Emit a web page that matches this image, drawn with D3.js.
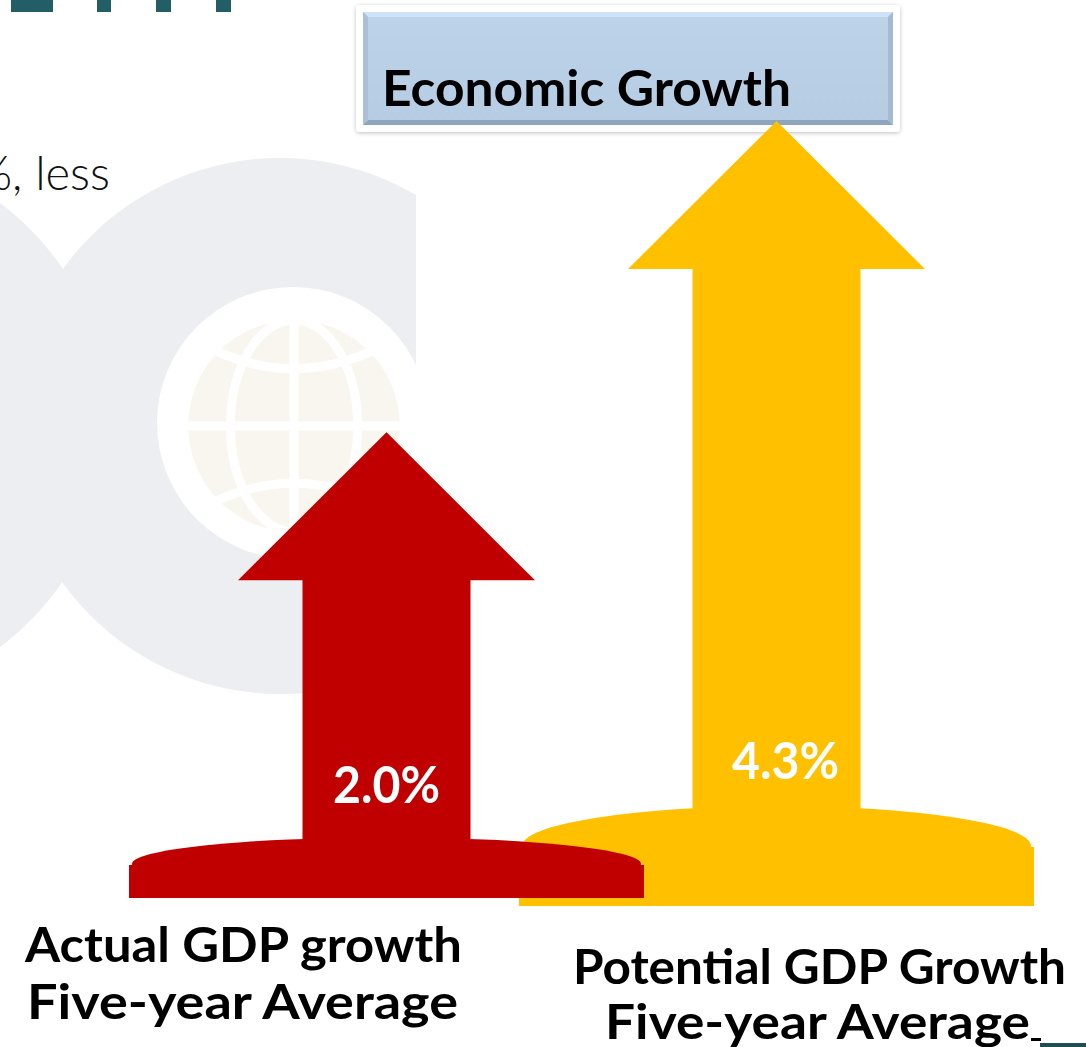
<!DOCTYPE html>
<html>
<head>
<meta charset="utf-8">
<script src="https://cdn.jsdelivr.net/npm/d3@7"></script>
<style>
  html, body { margin: 0; padding: 0; background: #fff; }
  svg { display: block; }
</style>
</head>
<body>
<div id="chart"></div>
<script>
// data
var categories = ["Actual", "Potential"];
var values = [2.0, 4.3];
var labelLine1 = ["Actual GDP growth", "Potential GDP Growth"];
var labelLine2 = ["Five-year Average", "Five-year Average"];
var colors = ["#c00000", "#ffc000"];
var title = "Economic Growth";

var width = 1086, height = 1047;

var svg = d3.select("#chart").append("svg")
    .attr("width", width)
    .attr("height", height);

var defs = svg.append("defs");

// background logo (faint grey shapes + globe)
var bgGrey = "#eceef1";
defs.append("clipPath").attr("id", "cCut")
  .append("rect").attr("x", 0).attr("y", 0).attr("width", 416).attr("height", height);

svg.append("circle").attr("cx", -166.5).attr("cy", 425).attr("r", 277.5).attr("fill", bgGrey);
svg.append("circle").attr("cx", 280).attr("cy", 426).attr("r", 268)
    .attr("fill", bgGrey).attr("clip-path", "url(#cCut)");
svg.append("circle").attr("cx", 293).attr("cy", 423).attr("r", 136).attr("fill", "#fff");

var gx = 294, gy = 426, gr = 106;
defs.append("clipPath").attr("id", "globeClip")
  .append("circle").attr("cx", gx).attr("cy", gy).attr("r", gr);
var globe = svg.append("g").attr("clip-path", "url(#globeClip)");
globe.append("circle").attr("cx", gx).attr("cy", gy).attr("r", gr).attr("fill", "#f8f6ee");
var gl = globe.append("g").attr("fill", "none").attr("stroke", "#fff").attr("stroke-width", 9);
gl.append("line").attr("x1", gx).attr("x2", gx).attr("y1", gy - gr).attr("y2", gy + gr);
gl.append("line").attr("x1", gx - gr).attr("x2", gx + gr).attr("y1", gy).attr("y2", gy);
gl.append("ellipse").attr("cx", gx).attr("cy", gy).attr("rx", gr * 0.6).attr("ry", gr);
[-1, 1].forEach(function (s) {
  var edgeY = gy + s * gr * 0.85, ctrlY = gy + s * gr * 0.23;
  gl.append("path")
    .attr("d", "M" + (gx - gr) + "," + edgeY + " Q" + gx + "," + ctrlY + " " + (gx + gr) + "," + edgeY);
});

// top-left remnants of slide title + body text
svg.append("g").attr("fill", "#235e66")
  .selectAll("rect")
  .data([[11, 42], [97, 14], [156, 15], [216, 15]])
  .enter().append("rect")
    .attr("x", function (d) { return d[0]; })
    .attr("y", 0)
    .attr("width", function (d) { return d[1]; })
    .attr("height", 12);

svg.append("text")
    .attr("x", 110).attr("y", 190)
    .attr("text-anchor", "end")
    .style("font-family", "Lato, 'Open Sans', sans-serif")
    .style("font-weight", 300)
    .style("font-size", "47px")
    .attr("fill", "#111")
    .text("%, less");

var labelFont = "Lato, 'Open Sans', sans-serif";

// title box (drawn under the arrows: the yellow tip overlaps its frame)
var shadow = defs.append("filter").attr("id", "shadow")
    .attr("x", "-5%").attr("y", "-10%").attr("width", "110%").attr("height", "120%");
shadow.append("feDropShadow").attr("dx", 0).attr("dy", 1)
    .attr("stdDeviation", 2).attr("flood-color", "#000").attr("flood-opacity", 0.25);

var grad = defs.append("linearGradient").attr("id", "boxGrad")
    .attr("x1", 0).attr("y1", 0).attr("x2", 0).attr("y2", 1);
grad.append("stop").attr("offset", "0%").attr("stop-color", "#bcd3ea");
grad.append("stop").attr("offset", "100%").attr("stop-color", "#b6cce3");

var tb = svg.append("g");
tb.append("rect").attr("x", 356).attr("y", 5).attr("width", 544).attr("height", 127)
    .attr("rx", 4).attr("fill", "#fff").attr("filter", "url(#shadow)");
var bx0 = 363, by0 = 12, bx1 = 893, by1 = 125, bv = 5;
tb.append("rect").attr("x", bx0).attr("y", by0).attr("width", bx1 - bx0).attr("height", by1 - by0)
    .attr("fill", "url(#boxGrad)");
// bevel edges
var bevel = [
  { c: "#cfe3f6", p: [[bx0, by0], [bx1, by0], [bx1 - bv, by0 + bv], [bx0 + bv, by0 + bv]] },
  { c: "#8ea6bd", p: [[bx0, by1], [bx1, by1], [bx1 - bv, by1 - bv], [bx0 + bv, by1 - bv]] },
  { c: "#a9c0d8", p: [[bx0, by0], [bx0 + bv, by0 + bv], [bx0 + bv, by1 - bv], [bx0, by1]] },
  { c: "#a3bad1", p: [[bx1, by0], [bx1 - bv, by0 + bv], [bx1 - bv, by1 - bv], [bx1, by1]] }
];
tb.selectAll(".bevel").data(bevel).enter().append("path")
    .attr("d", function (d) { return d3.line()(d.p) + "Z"; })
    .attr("fill", function (d) { return d.c; });
tb.append("text")
    .attr("x", 382).attr("y", 106)
    .attr("textLength", 409)
    .attr("lengthAdjust", "spacingAndGlyphs")
    .style("font-family", labelFont)
    .style("font-weight", "bold")
    .style("font-size", "50px")
    .attr("fill", "#000")
    .text(title);

// scales
var x = d3.scalePoint().domain(categories).range([386.5, 776.5]);
var y = d3.scaleLinear().domain([0, 4.3]).range([703, 121]);

var headHalf = 148.5, headH = 148, shaftHalf = 84, baseHalf = 257.5;
// base (cylinder) style per arrow: ellipse centre y, ellipse ry, bottom y
var baseCy = [864, 846], baseRy = [26.5, 40], baseBottom = [898, 906];
var valueBaseline = [803, 779], valueDx = [0, 9];

function arrowPath(cx, tip, bottom) {
  var hb = tip + headH;
  return "M" + cx + "," + tip +
    "L" + (cx + headHalf) + "," + hb +
    "L" + (cx + shaftHalf) + "," + hb +
    "L" + (cx + shaftHalf) + "," + bottom +
    "L" + (cx - shaftHalf) + "," + bottom +
    "L" + (cx - shaftHalf) + "," + hb +
    "L" + (cx - headHalf) + "," + hb + "Z";
}

var order = d3.range(values.length).reverse(); // yellow first, red on top
var arrows = svg.selectAll(".arrow")
  .data(order)
  .enter().append("g")
    .attr("class", "arrow")
    .attr("fill", function (i) { return colors[i]; });

arrows.append("rect")
    .attr("x", function (i) { return x(categories[i]) - baseHalf; })
    .attr("y", function (i) { return baseCy[i] + 1; })
    .attr("width", baseHalf * 2)
    .attr("height", function (i) { return baseBottom[i] - baseCy[i] - 1; });

arrows.append("ellipse")
    .attr("cx", function (i) { return x(categories[i]); })
    .attr("cy", function (i) { return baseCy[i]; })
    .attr("rx", baseHalf - 3)
    .attr("ry", function (i) { return baseRy[i]; });

arrows.append("path")
    .attr("d", function (i) { return arrowPath(x(categories[i]), y(values[i]), baseCy[i]); });

arrows.append("text")
    .attr("x", function (i) { return x(categories[i]) + valueDx[i]; })
    .attr("y", function (i) { return valueBaseline[i]; })
    .attr("text-anchor", "middle")
    .attr("fill", "#fff")
    .attr("textLength", 107)
    .attr("lengthAdjust", "spacingAndGlyphs")
    .style("font-family", labelFont)
    .style("font-weight", "bold")
    .style("font-size", "51px")
    .text(function (i) { return d3.format(".1f")(values[i]) + "%"; });

// category labels
var lab = [
  { t: labelLine1[0], x: 25, y: 962, w: 437 },
  { t: labelLine2[0], x: 27, y: 1019, w: 431 },
  { t: labelLine1[1], x: 573, y: 984, w: 493 },
  { t: labelLine2[1], x: 605, y: 1039, w: 425 }
];
svg.selectAll(".lab")
  .data(lab)
  .enter().append("text")
    .attr("class", "lab")
    .attr("x", function (d) { return d.x; })
    .attr("y", function (d) { return d.y; })
    .attr("textLength", function (d) { return d.w; })
    .attr("lengthAdjust", "spacingAndGlyphs")
    .style("font-family", labelFont)
    .style("font-weight", "bold")
    .style("font-size", "48px")
    .attr("fill", "#000")
    .text(function (d) { return d.t; });

svg.append("rect").attr("x", 1031).attr("y", 1038).attr("width", 10).attr("height", 3).attr("fill", "#000");
svg.append("rect").attr("x", 1040).attr("y", 1043).attr("width", 46).attr("height", 4).attr("fill", "#1f4f55");
</script>
</body>
</html>
